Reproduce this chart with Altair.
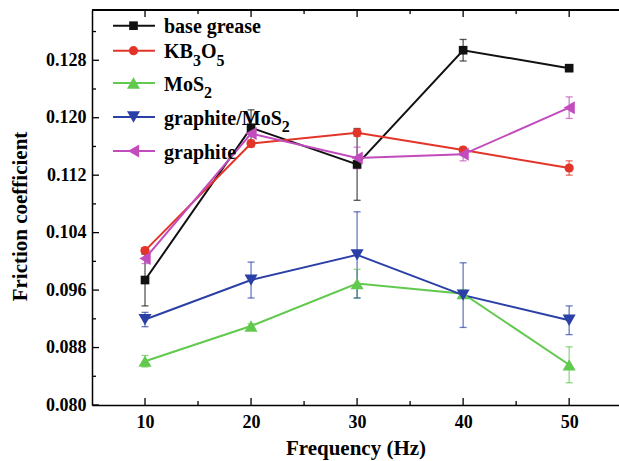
import altair as alt
import pandas as pd

# ---------------- data ----------------
freq = [10, 20, 30, 40, 50]
series_names = ["base grease", "KB3O5", "MoS2", "graphite/MoS2", "graphite"]
# legend label pieces: (text, is_subscript)
legend_parts = [
    [("base grease", False)],
    [("KB", False), ("3", True), ("O", False), ("5", True)],
    [("MoS", False), ("2", True)],
    [("graphite/MoS", False), ("2", True)],
    [("graphite", False)],
]
colors = ["#111111", "#e3342a", "#62c94f", "#2b40a6", "#c24cbe"]
shapes = ["square", "circle", "triangle-up", "triangle-down", "triangle-left"]
marker_sizes = [75, 85, 170, 170, 170]

base_grease = [0.0974, 0.1186, 0.1135, 0.1294, 0.1269]
base_grease_err = [0.0036, 0.0025, 0.0050, 0.0015, 0.0004]
kb3o5 = [0.1015, 0.1164, 0.1179, 0.1155, 0.1130]
kb3o5_err = [0.0004, 0.0005, 0.0005, 0.0004, 0.0010]
mos2 = [0.0861, 0.0910, 0.0969, 0.0955, 0.0856]
mos2_err = [0.0008, 0.0003, 0.0020, 0.0005, 0.0025]
graphite_mos2 = [0.0919, 0.0974, 0.1009, 0.0953, 0.0918]
graphite_mos2_err = [0.0010, 0.0025, 0.0060, 0.0045, 0.0020]
graphite = [0.1004, 0.1178, 0.1144, 0.1149, 0.1214]
graphite_err = [0.0007, 0.0004, 0.0015, 0.0009, 0.0015]

x_ticks = [10, 20, 30, 40, 50]
x_minor = [15, 25, 35, 45]
y_ticks = [0.080, 0.088, 0.096, 0.104, 0.112, 0.120, 0.128]
y_minor = [0.084, 0.092, 0.100, 0.108, 0.116, 0.124, 0.132]
legend_y_px = [15.7, 40.7, 73, 107, 141]

values = [base_grease, kb3o5, mos2, graphite_mos2, graphite]
errors = [base_grease_err, kb3o5_err, mos2_err, graphite_mos2_err, graphite_err]

rows = []
for name, msz, vals, errs in zip(series_names, marker_sizes, values, errors):
    for f, v, e in zip(freq, vals, errs):
        rows.append({"series": name, "msize": msz, "freq": f, "value": v,
                     "lo": v - e, "hi": v + e})
df = pd.DataFrame(rows)

legend_df = pd.DataFrame({"series": series_names, "ly": legend_y_px, "msize": marker_sizes})

# legend text segments (Times-metric advance widths, in em)
ADV = {"K": 0.778, "B": 0.667, "O": 0.778, "M": 0.944, "o": 0.5, "S": 0.556, "g": 0.5,
       "r": 0.444, "a": 0.5, "p": 0.556, "h": 0.556, "i": 0.278, "t": 0.333, "e": 0.444,
       "/": 0.278, " ": 0.25, "b": 0.556, "s": 0.389}
MAIN_FS, SUB_FS = 20, 16
TEXT_X0 = 72
seg_rows = []
for parts, ly in zip(legend_parts, legend_y_px):
    xcur = TEXT_X0
    for txt, sub in parts:
        fs = SUB_FS if sub else MAIN_FS
        seg_rows.append({"txt": txt, "tx": xcur, "ty": ly + (15 if sub else 7.5), "fs": fs})
        xcur += sum(ADV.get(c, 0.5) for c in txt) * fs
seg_df = pd.DataFrame(seg_rows)

# ---------------- style ----------------
FONT = "Liberation Serif"
W, H = 527, 395

xscale = alt.Scale(domain=[5, 54.7], nice=False, zero=False)
yscale = alt.Scale(domain=[0.080, 0.135], nice=False, zero=False)

xaxis = alt.Axis(values=x_ticks, title="Frequency (Hz)", ticks=False, grid=False,
                 labelFont=FONT, labelFontWeight="bold", labelFontSize=18, labelColor="black",
                 labelPadding=8, domainColor="black", domainWidth=1.5,
                 titleFont=FONT, titleFontWeight="bold", titleFontSize=21, titleColor="black",
                 titleY=43, titleBaseline="middle")
yaxis = alt.Axis(values=y_ticks, format=".3f", title="Friction coefficient", ticks=False, grid=False,
                 labelFont=FONT, labelFontWeight="bold", labelFontSize=18, labelColor="black",
                 labelPadding=6, domainColor="black", domainWidth=1.5,
                 titleFont=FONT, titleFontWeight="bold", titleFontSize=21, titleColor="black",
                 titleX=-72, titleY=206, titleAlign="center", titleBaseline="middle", titleAngle=270)

color = alt.Color("series:N", scale=alt.Scale(domain=series_names, range=colors), legend=None)
shape = alt.Shape("series:N", scale=alt.Scale(domain=series_names, range=shapes), legend=None)
size = alt.Size("msize:Q", scale=None, legend=None)

X = alt.X("freq:Q", scale=xscale, axis=xaxis)
Y = alt.Y("value:Q", scale=yscale, axis=yaxis)

base = alt.Chart(df)

lines = base.mark_line(strokeWidth=2).encode(x=X, y=Y, color=color, detail="series:N")

err_rules = base.mark_rule(strokeWidth=1.3, opacity=0.7).encode(
    x=X, y=alt.Y("lo:Q", scale=yscale, axis=yaxis), y2="hi:Q", color=color)
err_lo = base.mark_tick(orient="horizontal", size=7, thickness=1.3, opacity=0.7).encode(
    x=X, y=alt.Y("lo:Q", scale=yscale, axis=yaxis), color=color)
err_hi = base.mark_tick(orient="horizontal", size=7, thickness=1.3, opacity=0.7).encode(
    x=X, y=alt.Y("hi:Q", scale=yscale, axis=yaxis), color=color)

points = base.mark_point(filled=True, opacity=1).encode(
    x=X, y=Y, color=color, shape=shape, size=size)

# inward ticks
ymaj = pd.DataFrame({"v": y_ticks})
ymin = pd.DataFrame({"v": y_minor})
xmaj = pd.DataFrame({"v": x_ticks})
xmin = pd.DataFrame({"v": x_minor})

Yt = alt.Y("v:Q", scale=yscale, axis=yaxis)
Xt = alt.X("v:Q", scale=xscale, axis=xaxis)

ytick_major = alt.Chart(ymaj).mark_rule(color="black", strokeWidth=1.3).encode(
    y=Yt, x=alt.value(0), x2=alt.value(7))
ytick_minor = alt.Chart(ymin).mark_rule(color="black", strokeWidth=1.3).encode(
    y=Yt, x=alt.value(0), x2=alt.value(4))
xtick_major = alt.Chart(xmaj).mark_rule(color="black", strokeWidth=1.3).encode(
    x=Xt, y=alt.value(H), y2=alt.value(H - 7))
xtick_minor = alt.Chart(xmin).mark_rule(color="black", strokeWidth=1.3).encode(
    x=Xt, y=alt.value(H), y2=alt.value(H - 4))
ttick_major = alt.Chart(xmaj).mark_rule(color="black", strokeWidth=1.3).encode(
    x=Xt, y=alt.value(0), y2=alt.value(7))
ttick_minor = alt.Chart(xmin).mark_rule(color="black", strokeWidth=1.3).encode(
    x=Xt, y=alt.value(0), y2=alt.value(4))
top_line = alt.Chart(ymaj).mark_rule(color="black", strokeWidth=1.5).encode(
    x=alt.value(0), x2=alt.value(W + 5), y=alt.value(0))

# legend
LY = alt.Y("ly:Q", scale=None, axis=None)
leg_lines = alt.Chart(legend_df).mark_rule(strokeWidth=2).encode(
    y=LY, x=alt.value(21), x2=alt.value(63), color=color)
leg_points = alt.Chart(legend_df).mark_point(filled=True, opacity=1).encode(
    y=LY, x=alt.value(41.5), color=color, shape=shape, size=size)
leg_text = alt.Chart(seg_df).mark_text(align="left", baseline="alphabetic", font=FONT,
                                       fontWeight="bold", color="black").encode(
    x=alt.X("tx:Q", scale=None, axis=None),
    y=alt.Y("ty:Q", scale=None, axis=None),
    size=alt.Size("fs:Q", scale=None, legend=None),
    text="txt:N")

chart = alt.layer(
    lines, err_rules, err_lo, err_hi, points,
    ytick_major, ytick_minor, xtick_major, xtick_minor, ttick_major, ttick_minor, top_line,
    leg_lines, leg_points, leg_text,
).properties(
    width=W, height=H,
    padding={"left": 92, "top": 10, "right": 0, "bottom": 56},
    autosize=alt.AutoSizeParams(type="none"),
    background="white",
).configure_view(stroke=None)

chart.save("out.html", embed_options={"renderer": "svg", "actions": False})
